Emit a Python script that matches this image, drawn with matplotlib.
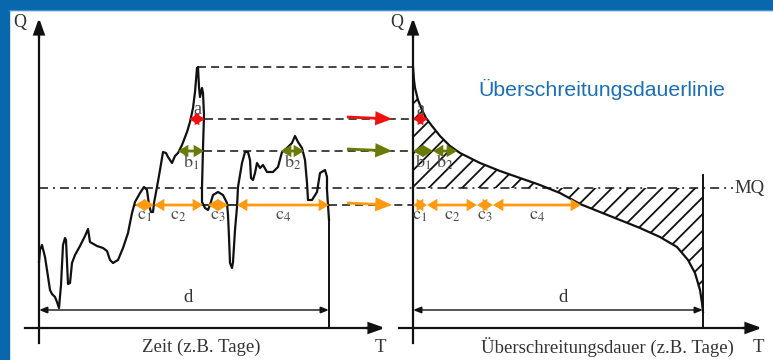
import matplotlib
matplotlib.use("Agg")
import matplotlib.pyplot as plt
from matplotlib.patches import FancyArrowPatch, Rectangle

plt.rcParams["mathtext.fontset"] = "stix"
plt.rcParams["hatch.linewidth"] = 1.3
plt.rcParams["lines.scale_dashes"] = False

# ---------------------------------------------------------------------------
# Data
# Hydrograph: time t (days from start) and discharge Q (arbitrary units)
hydro_t = [0, 1, 3, 6, 8, 11, 13, 16, 18, 20, 22, 23, 24, 26, 27, 28, 29, 31,
           33, 36, 41, 46, 49, 51, 58, 64, 68, 71, 74, 79, 84, 89, 93, 96, 101,
           105, 108, 110, 112, 114, 115, 118, 121, 123, 124, 127, 129, 133,
           136, 139, 143, 148, 151, 154, 156, 158, 159, 160, 161, 163, 164,
           165, 164, 163, 163, 166, 169, 171, 174, 179, 184, 188, 189, 190,
           191, 193, 194, 196, 198, 199, 203, 206, 209, 211, 212, 214, 216,
           218, 221, 224, 228, 234, 239, 243, 248, 253, 256, 259, 263, 266,
           268, 269, 273, 278, 281, 286, 288, 288, 289, 290]
hydro_q = [66, 78, 83, 71, 58, 38, 34, 31, 26, 20, 43, 63, 83, 90, 88, 66, 44,
           45, 65, 73, 82, 92, 99, 86, 82, 80, 77, 68, 65, 68, 80, 95, 115,
           126, 135, 141, 138, 123, 116, 116, 125, 141, 158, 170, 176, 175,
           171, 165, 172, 175, 183, 196, 206, 220, 236, 260, 261, 241, 231,
           240, 235, 213, 180, 140, 126, 120, 118, 123, 133, 136, 133, 125,
           113, 91, 65, 60, 66, 98, 121, 141, 165, 176, 176, 168, 150, 148,
           155, 165, 160, 163, 156, 156, 161, 176, 180, 185, 192, 186, 180,
           168, 145, 128, 128, 136, 155, 158, 151, 138, 123, 108]

# Exceedance-duration curve: duration D (days) and discharge Q
dur_d = [0, 1, 2, 5, 9, 13, 19, 27, 37, 47, 57, 67, 87, 107, 127, 147, 167,
         187, 207, 227, 247, 264, 275, 282, 287, 289, 290]
dur_q = [261, 248, 240, 228, 218, 210, 202, 192, 182, 175, 170, 165, 157,
         150, 143, 135, 124, 116, 108, 100, 91, 81, 68, 55, 38, 25, 16]

# Threshold levels
q_peak = 261
q_a = 209
q_b = 177
q_mean = 140      # MQ
q_c = 123
q_d = 18          # height of the total-duration arrow
total_days = 290

# Exceedance intervals in the hydrograph (start, end)
a_spans = [(150, 166)]
b_spans = [(139, 165), (242, 265)]
c_spans = [(96, 115), (115, 164), (169, 189), (198, 290)]

# Interval lengths stacked on the duration curve
a_len = [15]
b_len = [20, 24]
c_len = [14, 50, 16, 88]

a_labels = ["a"]
b_labels = [r"$\mathrm{b}_{1}$", r"$\mathrm{b}_{2}$"]
c_labels = [r"$\mathrm{c}_{1}$", r"$\mathrm{c}_{2}$", r"$\mathrm{c}_{3}$",
            r"$\mathrm{c}_{4}$"]

# ---------------------------------------------------------------------------
# Layout
X_L = 39      # origin of the hydrograph panel
X_R = 413     # origin of the duration panel
BLACK = "#111111"
RED = "#f01010"
OLIVE = "#6b7a06"
ORANGE = "#ff9a10"
LABEL = "#4a4a4a"
SERIF = "Liberation Serif"
SANS = "Liberation Sans"

fig = plt.figure(figsize=(7.73, 3.6), dpi=100)
ax = fig.add_axes([0, 0, 1, 1])
ax.set_xlim(0, 773)
ax.set_ylim(-32, 328)
ax.axis("off")


def arrow(x0, y0, x1, y1, color, lw, style, z=5):
    ax.add_patch(FancyArrowPatch((x0, y0), (x1, y1), arrowstyle=style,
                                 mutation_scale=10, color=color, lw=lw,
                                 shrinkA=0, shrinkB=0, zorder=z,
                                 joinstyle="miter", capstyle="butt"))


DOUBLE = "<|-|>,head_length=0.45,head_width=0.27"
AXIS = "-|>,head_length=0.95,head_width=0.34"
THIN = "<|-|>,head_length=0.5,head_width=0.2"
TRANS = "-|>,head_length=0.85,head_width=0.36"

# frame
ax.add_patch(Rectangle((0, 318), 773, 10, color="#0867ad", clip_on=False,
                       zorder=10))
ax.add_patch(Rectangle((0, -32), 9, 360, color="#0867ad", clip_on=False,
                       zorder=10))
ax.plot([9, 773], [318, 318], color="#4a93cf", lw=0.8, zorder=11)

# axes of both panels
for x0, x_end in ((X_L, 385), (X_R, 762)):
    ax.plot([x0, x0], [-15, 300], color=BLACK, lw=1.6, zorder=4)
    arrow(x0, 290, x0, 310, BLACK, 1.6, AXIS)
    ax.plot([x0 - 14, x_end - 10], [0, 0], color=BLACK, lw=1.6, zorder=4)
    arrow(x_end - 20, 0, x_end, 0, BLACK, 1.6, AXIS)

# hydrograph
ax.plot([X_L + t for t in hydro_t], hydro_q, color=BLACK, lw=1.6,
        zorder=3, solid_joinstyle="round")
ax.plot([X_L + total_days] * 2, [hydro_q[-1], 0], color=BLACK, lw=1.4,
        zorder=3)

# duration curve with hatched deviation from MQ
dx = [X_R + d for d in dur_d]
ax.fill_between(dx, dur_q, q_mean, facecolor="none", edgecolor=BLACK,
                hatch="//", linewidth=0, zorder=2)
ax.plot(dx, dur_q, color=BLACK, lw=1.6, zorder=3)
ax.plot([X_R + total_days] * 2, [q_mean + 13, 0], color=BLACK, lw=1.4,
        zorder=3)

# threshold lines
dash = (0, (5.8, 3.6))
ax.plot([X_L + 159, X_R], [q_peak] * 2, color=BLACK, lw=1.1, ls=dash)
ax.plot([X_L + a_spans[0][1], X_R], [q_a] * 2, color=BLACK, lw=1.1, ls=dash)
ax.plot([X_L + b_spans[0][1], X_R], [q_b] * 2, color=BLACK, lw=1.1, ls=dash)
ax.plot([X_L + total_days, X_R], [q_c] * 2, color=BLACK, lw=1.1, ls=dash)
ax.plot([X_L + c_spans[0][0], X_L + total_days], [q_c] * 2, color=BLACK,
        lw=1.2)
ax.plot([X_L, 733], [q_mean] * 2, color=BLACK, lw=1.1,
        ls=(0, (6.5, 3.6, 1.4, 3.6)))
ax.text(734, q_mean - 1, "MQ", fontsize=13.5, family=SERIF, color="#333333",
        va="center", ha="left")

# total-duration arrows
for x0 in (X_L, X_R):
    arrow(x0, q_d, x0 + total_days, q_d, BLACK, 1.0, THIN)
ax.text(X_L + 149, q_d + 4, "d", fontsize=13.5, family=SERIF,
        color="#333333", ha="center", va="bottom")
ax.text(X_R + 150, q_d + 4, "d", fontsize=13.5, family=SERIF,
        color="#333333", ha="center", va="bottom")

# exceedance intervals in the hydrograph
for spans, q, col, labels in ((a_spans, q_a, RED, a_labels),
                              (b_spans, q_b, OLIVE, b_labels),
                              (c_spans, q_c, ORANGE, c_labels)):
    for (s, e), lab in zip(spans, labels):
        arrow(X_L + s, q, X_L + e, q, col, 2.0, DOUBLE, z=6)
        y = q + 9 if col == RED else q - 11
        ax.text(X_L + (s + e) / 2, y, lab, fontsize=13, family=SERIF,
                color=LABEL, ha="center", va="center", zorder=7)

# the same intervals stacked on the duration axis
for lens, q, col, labels in ((a_len, q_a, RED, a_labels),
                             (b_len, q_b, OLIVE, b_labels),
                             (c_len, q_c, ORANGE, c_labels)):
    start = 0
    for length, lab in zip(lens, labels):
        arrow(X_R + start, q, X_R + start + length, q, col, 2.0, DOUBLE, z=6)
        y = q + 10 if col == RED else q - 11
        ax.text(X_R + start + length / 2, y, lab, fontsize=13, family=SERIF,
                color=LABEL, ha="center", va="center", zorder=7)
        start += length

# transfer arrows between the panels
for q, col in ((q_a, RED), (q_b, OLIVE), (q_c, ORANGE)):
    arrow(347, q + 2, 392, q, col, 2.0, TRANS, z=6)

# labels
ax.text(20, 306, "Q", fontsize=13, family=SERIF, color="#333333",
        ha="center", va="center")
ax.text(397, 305, "Q", fontsize=13, family=SERIF, color="#333333",
        ha="center", va="center")
ax.text(380, -20, "T", fontsize=13.5, family=SERIF, color="#333333",
        ha="center", va="center")
ax.text(758, -20, "T", fontsize=13.5, family=SERIF, color="#333333",
        ha="center", va="center")
ax.text(201, -19, "Zeit (z.B. Tage)", fontsize=13.5, family=SERIF,
        color="#333333", ha="center", va="center")
ax.text(607, -19, "Überschreitungsdauer (z.B. Tage)", fontsize=13.5,
        family=SERIF, color="#333333", ha="center", va="center")
ax.text(602, 239, "Überschreitungsdauerlinie", fontsize=15.3, family=SANS,
        color="#1a6fb7", ha="center", va="center")

fig.savefig("out.png", dpi=100)
